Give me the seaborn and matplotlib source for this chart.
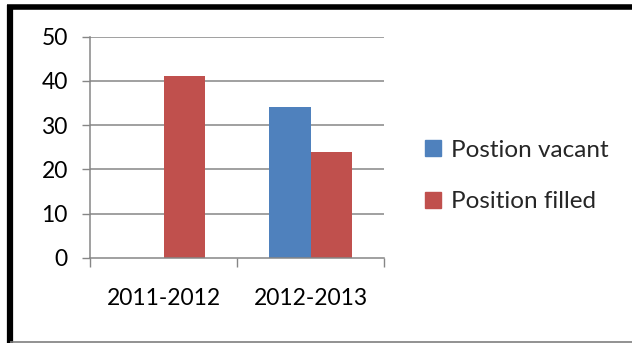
import matplotlib
matplotlib.use("Agg")
import matplotlib.pyplot as plt
from matplotlib.lines import Line2D
import seaborn as sns
import pandas as pd

# Staffing counts per academic year
years = ["2011-2012", "2012-2013"]
vacant = [0, 34]
filled = [41, 24]
series_names = ["Postion vacant", "Position filled"]
colors = ["#4F81BD", "#C0504D"]
y_ticks = [0, 10, 20, 30, 40, 50]

df = pd.DataFrame({
    "year": years * 2,
    "count": vacant + filled,
    "series": [series_names[0]] * len(years) + [series_names[1]] * len(years),
})

sns.set_theme(style="white")
plt.rcParams["font.family"] = ["Lato", "DejaVu Sans"]

W, H = 632, 343
fig = plt.figure(figsize=(W / 100, H / 100), dpi=100)
ax = fig.add_axes([90 / W, 1 - 257.7 / H, (384 - 90) / W, (257.7 - 36.7) / H])

sns.barplot(data=df, x="year", y="count", hue="series", order=years,
            hue_order=series_names, palette=colors, width=0.565,
            saturation=1, ax=ax, legend=False, linewidth=0)

grey = "#868686"
ax.set_ylim(0, 50)
ax.set_xlim(-0.5, 1.5)
ax.set_yticks(y_ticks)
ax.set_yticklabels([str(v) for v in y_ticks])
ax.set_xticks([-0.5, 0.5, 1.5], minor=False)
ax.set_xticklabels(["", "", ""])
ax.set_xticks([0, 1], minor=True)
ax.set_xticklabels(years, minor=True)
ax.set_xlabel("")
ax.set_ylabel("")

for v in y_ticks[1:]:
    ax.axhline(v, color=grey, lw=1.1, zorder=0)
ax.set_axisbelow(True)

for s in ["top", "right"]:
    ax.spines[s].set_visible(False)
for s in ["left", "bottom"]:
    ax.spines[s].set_color(grey)
    ax.spines[s].set_linewidth(1.1)

ax.tick_params(axis="y", which="major", length=6, width=1.0, color=grey,
               pad=10, labelsize=16.5, labelcolor="black", left=True)
ax.tick_params(axis="x", which="major", length=6.5, width=1.0, color=grey,
               bottom=True, direction="out")
ax.tick_params(axis="x", which="minor", length=0, pad=22, labelsize=16.5,
               labelcolor="black")

handles = [plt.Rectangle((0, 0), 1, 1, color=c) for c in colors]
fig.legend(handles, series_names, loc="center left",
           bbox_to_anchor=(413 / W, 1 - 176 / H), frameon=False,
           fontsize=17.5, handlelength=0.65, handleheight=0.65,
           handletextpad=0.4, labelspacing=1.25, borderpad=0)

# Frame around the chart: heavy black top and left, thin grey bottom
fig.add_artist(Line2D([7 / W, 1], [1 - 6.7 / H, 1 - 6.7 / H], color="black",
                      lw=4.0, transform=fig.transFigure, solid_capstyle="butt"))
fig.add_artist(Line2D([10 / W, 10 / W], [1 - 4.5 / H, 0], color="black",
                      lw=4.5, transform=fig.transFigure, solid_capstyle="butt"))
fig.add_artist(Line2D([10 / W, 1], [1 - 342 / H, 1 - 342 / H], color="#7f7f7f",
                      lw=1.2, transform=fig.transFigure, solid_capstyle="butt"))

fig.savefig("out.png", dpi=100)
